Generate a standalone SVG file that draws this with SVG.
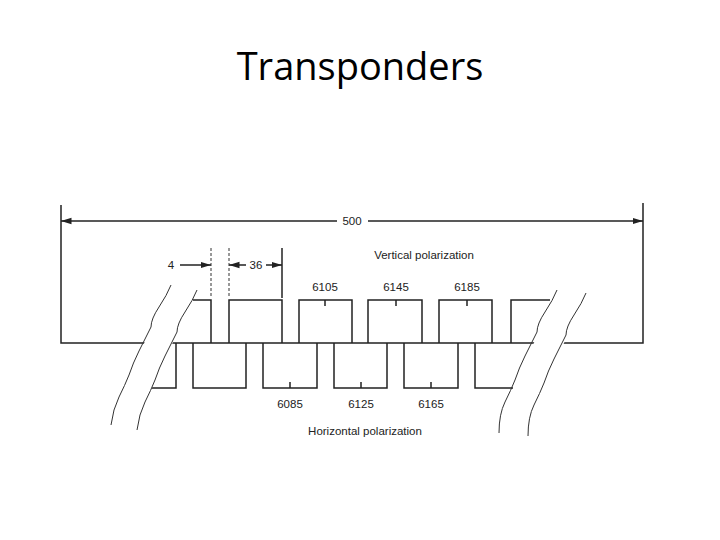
<svg xmlns="http://www.w3.org/2000/svg" width="720" height="540" viewBox="0 0 720 540">
<style>
.l{stroke:#222;stroke-width:1.5;fill:none}
.t{font-family:"Liberation Sans",Arial,sans-serif;font-size:11.5px;fill:#222}
.w{stroke:#333;stroke-width:1;fill:none}
</style>
<defs><marker id="a" viewBox="0 0 10 10" refX="10" refY="5" markerWidth="7" markerHeight="7" orient="auto-start-reverse"><path d="M0,2L10,5L0,8z" fill="#222"/></marker></defs>
<rect width="720" height="540" fill="#fff"/>
<text x="360" y="80" text-anchor="middle" font-family="Open Sans,Liberation Sans,sans-serif" font-size="38" fill="#000">Transponders</text>
<g id="frame">
<path class="l" d="M61,205V343H643V203"/>
</g>
<g id="connectors">
<line class="l" x1="61" y1="221" x2="337" y2="221" marker-start="url(#a)"/>
<line class="l" x1="368" y1="221" x2="643" y2="221" marker-end="url(#a)"/>
<line class="l" x1="180" y1="265" x2="211" y2="265" marker-end="url(#a)"/>
<line class="l" x1="229" y1="265" x2="246" y2="265" marker-start="url(#a)"/>
<line class="l" x1="266" y1="265" x2="282" y2="265" marker-end="url(#a)"/>
<path class="w" stroke-dasharray="3,2" d="M211,248V298M229,248V298"/>
<path class="l" d="M282,248V298"/>
</g>
<g id="upper">
<path class="l" d="M193,300H211V343M229,343V300H282V343M299,343V300H352V343M368,343V300H422V343M439,343V300H492V343M511,343V300H550"/>
<path class="l" d="M325,300V306M396,300V306M467,300V306"/>
</g>
<g id="lower">
<path class="l" d="M152,388H176V343M193,343V388H246V343M263,343V388H317V343M334,343V388H387V343M404,343V388H458V343M475,343V388H513"/>
<path class="l" d="M290,388V382M361,388V382M431,388V382"/>
</g>
<g id="breaks">
<path d="M171,285 L111,415 L138,418 L197,290Z" fill="#fff"/>
<path d="M557,290 L499,423 L527,427 L586,293Z" fill="#fff"/>
<path class="w" d="M171,285q-4,10-12,22t-8,20q-6,12-12,24t-10,24q-4,10-10,22t-8,28"/>
<path class="w" d="M197,290q-4,10-12,22t-8,20q-6,12-12,24t-10,24q-4,10-10,22t-8,28"/>
<path class="w" d="M557,290q-4,10-12,22t-8,20q-6,12-12,24t-10,24q-4,10-10,22t-6,31"/>
<path class="w" d="M586,293q-4,10-12,22t-8,20q-6,12-12,24t-10,24q-4,10-10,22t-6,31"/>
</g>
<g id="labels">
<text class="t" x="352" y="225" text-anchor="middle">500</text>
<text class="t" x="171" y="269" text-anchor="middle">4</text>
<text class="t" x="256" y="269" text-anchor="middle">36</text>
<text class="t" x="424" y="259" text-anchor="middle">Vertical polarization</text>
<text class="t" x="325" y="291" text-anchor="middle">6105</text>
<text class="t" x="396" y="291" text-anchor="middle">6145</text>
<text class="t" x="467" y="291" text-anchor="middle">6185</text>
<text class="t" x="290" y="408" text-anchor="middle">6085</text>
<text class="t" x="361" y="408" text-anchor="middle">6125</text>
<text class="t" x="431" y="408" text-anchor="middle">6165</text>
<text class="t" x="365" y="435" text-anchor="middle">Horizontal polarization</text>
</g>
</svg>
